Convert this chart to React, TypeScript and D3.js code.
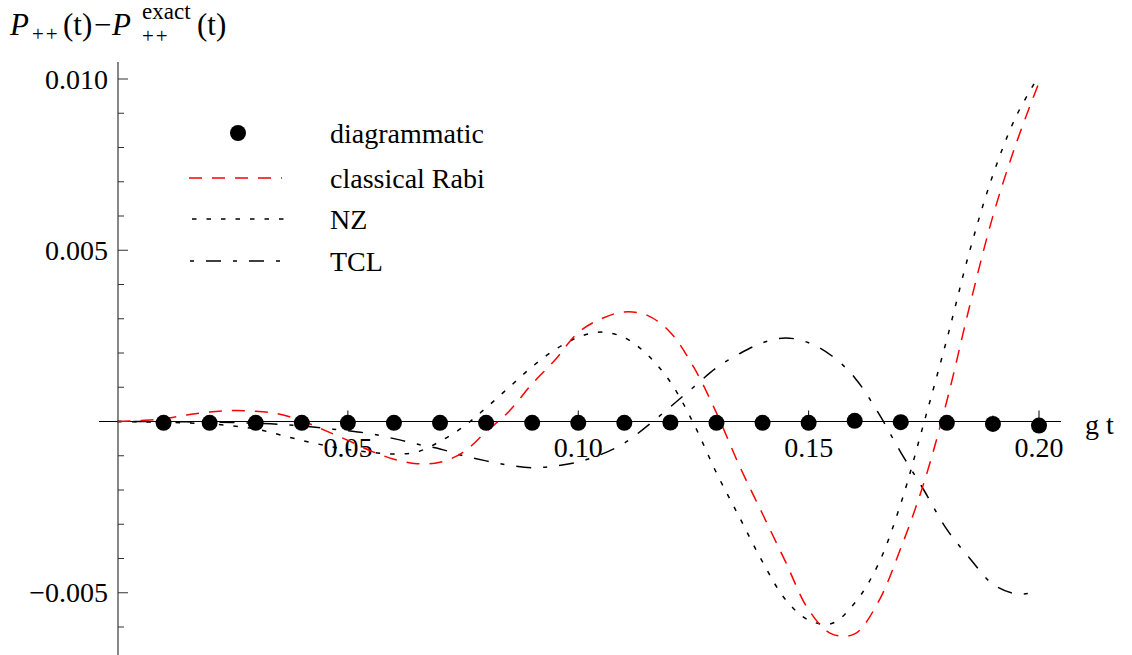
import React from 'react';
import * as d3 from 'd3';

const W = 1132;
const H = 655;

// sample times (g t) for the three curves
const tValues = [
  0, 0.005, 0.01, 0.015, 0.02, 0.025, 0.03, 0.035, 0.04, 0.045,
  0.05, 0.055, 0.06, 0.065, 0.07, 0.075, 0.08, 0.085, 0.09, 0.095,
  0.1, 0.105, 0.11, 0.115, 0.12, 0.125, 0.13, 0.135, 0.14, 0.145,
  0.15, 0.155, 0.16, 0.165, 0.17, 0.175, 0.18, 0.185, 0.19, 0.195, 0.2,
];

const classicalRabi = [
  0, 0.00003, 0.00008, 0.00019, 0.00028, 0.00032, 0.0003, 0.00022, 0.00002, -0.00026,
  -0.00055, -0.00086, -0.0011, -0.00123, -0.00119, -0.0009, -0.0003, 0.0003, 0.0011, 0.0018,
  0.0026, 0.003, 0.0032, 0.0031, 0.0026, 0.0016, 0.00025, -0.0013, -0.0027, -0.0041,
  -0.0055, -0.0062, -0.0062, -0.0053, -0.0037, -0.0018, 0.0006, 0.0034, 0.006, 0.0081, 0.0099,
];

const nz = [
  0, -0.00001, -0.00002, -0.00004, -0.00007, -0.00013, -0.00022, -0.00038, -0.00055, -0.0007,
  -0.00082, -0.0009, -0.00095, -0.00089, -0.00058, -0.00016, 0.0004, 0.001, 0.0016, 0.0021,
  0.00246, 0.00261, 0.00245, 0.00195, 0.00115, -0.00005, -0.0015, -0.0028, -0.0041, -0.0052,
  -0.0058, -0.0059, -0.0053, -0.0042, -0.0024, -0.00005, 0.0024, 0.005, 0.0072, 0.0089, 0.0101,
];

const tcl = [
  0, 0, -0.00001, -0.00001, -0.00002, -0.00003, -0.00005, -0.00008, -0.00013, -0.0002,
  -0.00027, -0.00036, -0.0005, -0.00066, -0.0008, -0.001, -0.00115, -0.00128, -0.00135, -0.0013,
  -0.00118, -0.00096, -0.00063, -0.00013, 0.00043, 0.001, 0.00157, 0.00198, 0.0023, 0.00244,
  0.0023, 0.00192, 0.00128, 0.00028, -0.0009, -0.002, -0.00315, -0.004, -0.00475, -0.00503, -0.00497,
];

const dotT = [
  0.01, 0.02, 0.03, 0.04, 0.05, 0.06, 0.07, 0.08, 0.09, 0.1,
  0.11, 0.12, 0.13, 0.14, 0.15, 0.16, 0.17, 0.18, 0.19, 0.2,
];
const diagrammatic = [
  -0.00004, -0.00004, -0.00004, -0.00004, -0.00004, -0.00004, -0.00004, -0.00004, -0.00004, -0.00004,
  -0.00004, -0.00003, -0.00004, -0.00004, -0.00004, 0.00002, -0.00002, -0.00004, -0.00007, -0.00012,
];

const xMajor = [0.05, 0.1, 0.15, 0.2];
const xMajorLabels = ['0.05', '0.10', '0.15', '0.20'];
const xMinor = [0.01, 0.02, 0.03, 0.04, 0.06, 0.07, 0.08, 0.09, 0.11, 0.12, 0.13, 0.14, 0.16, 0.17, 0.18, 0.19];
const yMajor = [0.01, 0.005, 0, -0.005];
const yMajorLabels = ['0.010', '0.005', '', '\u22120.005'];
const yMinor = [
  0.009, 0.008, 0.007, 0.006, 0.004, 0.003, 0.002, 0.001,
  -0.001, -0.002, -0.003, -0.004, -0.006,
];

const legendNames = ['diagrammatic', 'classical Rabi', 'NZ', 'TCL'];

const FONT = 'Liberation Serif';
const RED = '#ff0000';

export default function App() {
  const x = d3.scaleLinear().domain([0, 0.2]).range([117.5, 1039]);
  const y = d3.scaleLinear().domain([0, 0.01]).range([421.5, 79]);

  const line = d3
    .line<number>()
    .x((_, i) => x(tValues[i]))
    .y((d) => y(d))
    .curve(d3.curveCatmullRom.alpha(0.5));

  const axisX = x(0) + 0.5;
  const y0 = y(0);

  // legend rows
  const legY = [133, 178, 219, 261];
  const legTextX = 330;

  return (
    <svg width={W} height={H} style={{ position: 'absolute', left: 0, top: 0, background: '#fff' }}>
      {/* title */}
      <text x={10} y={35} fontFamily={FONT} fontSize={31} fontStyle="italic">P</text>
      <text x={32} y={41} fontFamily={FONT} fontSize={21} letterSpacing={2}>++</text>
      <text x={63} y={35} fontFamily={FONT} fontSize={31}>(t)</text>
      <text x={94} y={35} fontFamily={FONT} fontSize={31}>{'\u2212'}</text>
      <text x={112} y={35} fontFamily={FONT} fontSize={31} fontStyle="italic">P</text>
      <text x={142} y={19} fontFamily={FONT} fontSize={23}>exact</text>
      <text x={142} y={43} fontFamily={FONT} fontSize={21} letterSpacing={2}>++</text>
      <text x={197} y={35} fontFamily={FONT} fontSize={31}>(t)</text>

      {/* y axis */}
      <line x1={axisX} x2={axisX} y1={y(0.0105)} y2={H} stroke="#7a7a7a" strokeWidth={1.8} />
      {yMajor.map((v, i) => (
        <g key={'ym' + i}>
          <line x1={axisX} x2={axisX + 10} y1={y(v)} y2={y(v)} stroke="#333" strokeWidth={1} />
          <text x={108} y={y(v) + 9.5} fontFamily={FONT} fontSize={28} textAnchor="end">
            {yMajorLabels[i]}
          </text>
        </g>
      ))}
      {yMinor.map((v, i) => (
        <line key={'yn' + i} x1={axisX} x2={axisX + 6} y1={y(v)} y2={y(v)} stroke="#333" strokeWidth={1} />
      ))}

      {/* x axis */}
      <line x1={99} x2={1061} y1={y0} y2={y0} stroke="#000" strokeWidth={1.2} />
      {xMajor.map((v, i) => (
        <g key={'xm' + i}>
          <line x1={x(v)} x2={x(v)} y1={y0} y2={y0 - 11} stroke="#000" strokeWidth={1} />
          <text x={x(v)} y={y0 + 35.5} fontFamily={FONT} fontSize={28} textAnchor="middle">
            {xMajorLabels[i]}
          </text>
        </g>
      ))}
      {xMinor.map((v, i) => (
        <line key={'xn' + i} x1={x(v)} x2={x(v)} y1={y0} y2={y0 - 6} stroke="#000" strokeWidth={1} />
      ))}
      <text x={1085} y={434} fontFamily={FONT} fontSize={28}>g t</text>

      {/* curves */}
      <path d={line(tcl) || ''} fill="none" stroke="#000" strokeWidth={1.5} strokeDasharray="4 12 15 12" />
      <path d={line(nz) || ''} fill="none" stroke="#000" strokeWidth={1.5} strokeDasharray="4.5 10" />
      <path d={line(classicalRabi) || ''} fill="none" stroke={RED} strokeWidth={1.5} strokeDasharray="13 10" />

      {/* diagrammatic points */}
      {dotT.map((t, i) => (
        <circle key={'d' + i} cx={x(t)} cy={y(diagrammatic[i])} r={8} fill="#000" />
      ))}

      {/* legend */}
      <circle cx={238} cy={legY[0]} r={8} fill="#000" />
      <line x1={189} x2={282} y1={legY[1]} y2={legY[1]} stroke={RED} strokeWidth={1.5} strokeDasharray="13 10" />
      <line x1={192} x2={292} y1={legY[2]} y2={legY[2]} stroke="#000" strokeWidth={1.5} strokeDasharray="4.5 10" />
      <line x1={190} x2={292} y1={legY[3]} y2={legY[3]} stroke="#000" strokeWidth={1.5} strokeDasharray="4 12 15 12" />
      {legendNames.map((name, i) => (
        <text key={name} x={legTextX} y={legY[i] + 10} fontFamily={FONT} fontSize={28}>
          {name}
        </text>
      ))}
    </svg>
  );
}
